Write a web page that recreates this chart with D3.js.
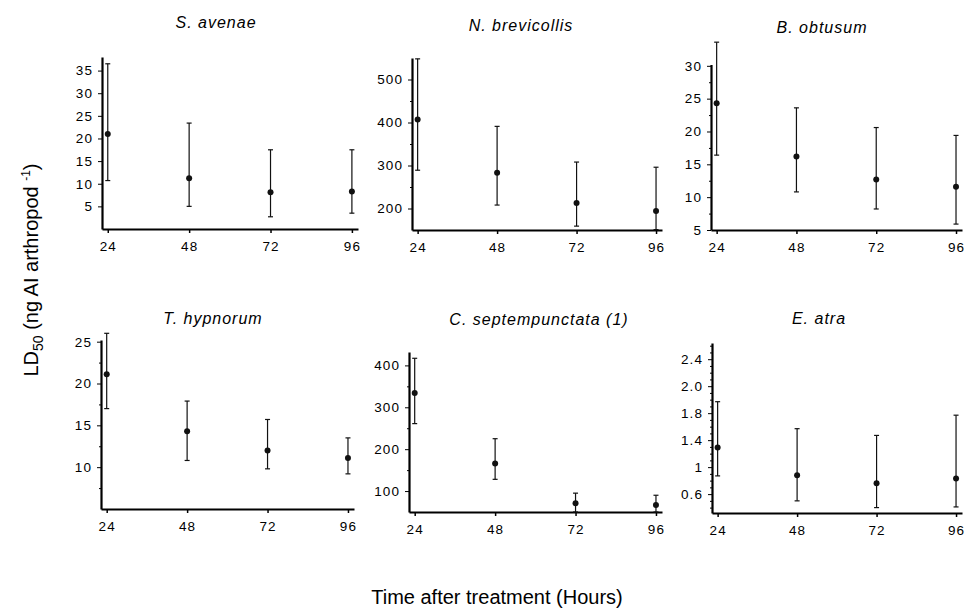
<!DOCTYPE html>
<html>
<head>
<meta charset="utf-8">
<script src="https://cdn.jsdelivr.net/npm/d3@7"></script>
<style>
  body { margin: 0; background: #fff; }
  svg { font-family: "Liberation Sans", Arial, sans-serif; }
  .axis path, .axis line { stroke: #000; }
  .axis text { font-size: 13.5px; fill: #000; letter-spacing: 1.1px; }
</style>
</head>
<body>
<script>
// data
var hours = [24, 48, 72, 96];
var titles = ['S. avenae', 'N. brevicollis', 'B. obtusum', 'T. hypnorum', 'C. septempunctata (1)', 'E. atra'];

var ld50 = [
    [21, 11.2, 8.1, 8.3],
    [407, 283, 213, 194],
    [24.3, 16.2, 12.7, 11.6],
    [21.1, 14.3, 12.0, 11.1],
    [334, 166, 71, 67],
    [1.29, 0.88, 0.76, 0.83]
];
var lower = [
    [10.7, 5, 2.7, 3.5],
    [289, 208, 159, 151],
    [16.4, 10.8, 8.2, 5.9],
    [17.0, 10.8, 9.8, 9.2],
    [261, 128, 50, 50],
    [0.87, 0.5, 0.4, 0.41]
];
var upper = [
    [36.5, 23.4, 17.5, 17.5],
    [548, 391, 308, 296],
    [33.6, 23.6, 20.6, 19.4],
    [26.0, 17.9, 15.7, 13.5],
    [417, 225, 95, 90],
    [1.97, 1.57, 1.47, 1.77]
];

var yDomains = [[0, 38], [150, 550], [5, 30.2], [5, 25.2], [50, 432], [0.32, 2.84]];
var yTicks = [
    [5, 10, 15, 20, 25, 30, 35],
    [200, 300, 400, 500],
    [5, 10, 15, 20, 25, 30],
    [10, 15, 20, 25],
    [100, 200, 300, 400],
    [0.6, 1.0, 1.4, 1.8, 2.2, 2.6]
];
// labels as printed (the E. atra axis is labelled this way in the original)
var yTickLabels = [
    null, null, null, null, null,
    ['0.6', '1', '1.4', '1.8', '2.0', '2.4']
];
var yMinor = [
    [],
    [250, 350, 450],
    [7.5, 12.5, 17.5, 22.5, 27.5],
    [7.5, 12.5, 17.5, 22.5],
    [150, 250, 350],
    [0.4, 0.5, 0.7, 0.8, 0.9, 1.1, 1.2, 1.3, 1.5, 1.6, 1.7, 1.9, 2.0, 2.1, 2.3, 2.4, 2.5, 2.7, 2.8]
];
var xDomain = [22.3, 97.8];

// panel placement
var svgWidth = 965, svgHeight = 613;
var layout = [
    { left: 102, right: 358, top: 57, bottom: 229, tx: 216, ty: 28 },
    { left: 412, right: 662, top: 58, bottom: 230, tx: 521, ty: 31 },
    { left: 711, right: 962, top: 64.5, bottom: 230, tx: 822, ty: 33 },
    { left: 101, right: 354, top: 340, bottom: 509, tx: 213, ty: 324 },
    { left: 409, right: 662, top: 352, bottom: 512, tx: 539, ty: 325 },
    { left: 712, right: 962, top: 343, bottom: 513, tx: 819, ty: 324 }
];

var svg = d3.select('body')
    .append('svg')
    .attr('width', svgWidth)
    .attr('height', svgHeight);

layout.forEach(function (p, i) {
    var xScale = d3.scaleLinear().domain(xDomain).range([p.left, p.right]);
    var yScale = d3.scaleLinear().domain(yDomains[i]).range([p.bottom, p.top]);

    var g = svg.append('g').attr('class', 'panel');

    // minor ticks first so the main axis sits on top
    g.append('g')
        .attr('class', 'axis minor')
        .attr('transform', `translate(${ p.left }, 0)`)
        .call(d3.axisLeft(yScale).tickValues(yMinor[i]).tickSizeInner(2).tickSizeOuter(0).tickFormat(''))
        .call(sel => sel.select('.domain').remove());

    var yAxis = d3.axisLeft(yScale)
        .tickValues(yTicks[i])
        .tickSizeInner(4)
        .tickSizeOuter(0)
        .tickPadding(5);
    if (yTickLabels[i]) {
        yAxis.tickFormat((d, k) => yTickLabels[i][k]);
    } else {
        yAxis.tickFormat(d3.format('d'));
    }

    g.append('g')
        .attr('class', 'axis y')
        .attr('transform', `translate(${ p.left }, 0)`)
        .call(yAxis)
        .call(sel => sel.select('.domain').attr('stroke-width', 2.2));

    g.append('g')
        .attr('class', 'axis x')
        .attr('transform', `translate(0, ${ p.bottom })`)
        .call(d3.axisBottom(xScale).tickValues(hours).tickSizeInner(4).tickSizeOuter(0).tickPadding(8))
        .call(sel => sel.select('.domain').attr('stroke-width', 2.2))
        .call(sel => sel.selectAll('.tick line').attr('stroke-width', 1.5));

    // error bars
    var bars = g.append('g')
        .selectAll('g')
        .data(hours)
        .enter()
        .append('g');

    bars.append('line')
        .attr('x1', d => xScale(d))
        .attr('x2', d => xScale(d))
        .attr('y1', (d, k) => yScale(lower[i][k]))
        .attr('y2', (d, k) => yScale(upper[i][k]))
        .attr('stroke', '#111')
        .attr('stroke-width', 1.2);

    bars.append('line')
        .attr('x1', d => xScale(d) - 2.5)
        .attr('x2', d => xScale(d) + 2.5)
        .attr('y1', (d, k) => yScale(upper[i][k]))
        .attr('y2', (d, k) => yScale(upper[i][k]))
        .attr('stroke', '#111')
        .attr('stroke-width', 1.2);

    bars.append('line')
        .attr('x1', d => xScale(d) - 2.5)
        .attr('x2', d => xScale(d) + 2.5)
        .attr('y1', (d, k) => yScale(lower[i][k]))
        .attr('y2', (d, k) => yScale(lower[i][k]))
        .attr('stroke', '#111')
        .attr('stroke-width', 1.2);

    bars.append('circle')
        .attr('cx', d => xScale(d))
        .attr('cy', (d, k) => yScale(ld50[i][k]))
        .attr('r', 3)
        .attr('fill', '#111');

    g.append('text')
        .attr('x', p.tx)
        .attr('y', p.ty)
        .attr('text-anchor', 'middle')
        .attr('font-size', 16)
        .attr('font-style', 'italic')
        .attr('letter-spacing', 1)
        .text(titles[i]);
});

// axis titles
var yLabel = svg.append('text')
    .attr('transform', 'translate(38, 270) rotate(-90)')
    .attr('text-anchor', 'middle')
    .attr('font-size', 20);
yLabel.append('tspan').text('LD');
yLabel.append('tspan').attr('font-size', 14).attr('dy', 5).text('50');
yLabel.append('tspan').attr('dy', -5).text(' (ng AI arthropod ');
yLabel.append('tspan').attr('font-size', 12).attr('dy', -8).text('-1');
yLabel.append('tspan').attr('dy', 8).text(')');

svg.append('text')
    .attr('x', 497)
    .attr('y', 604)
    .attr('text-anchor', 'middle')
    .attr('font-size', 20)
    .text('Time after treatment (Hours)');
</script>
</body>
</html>
